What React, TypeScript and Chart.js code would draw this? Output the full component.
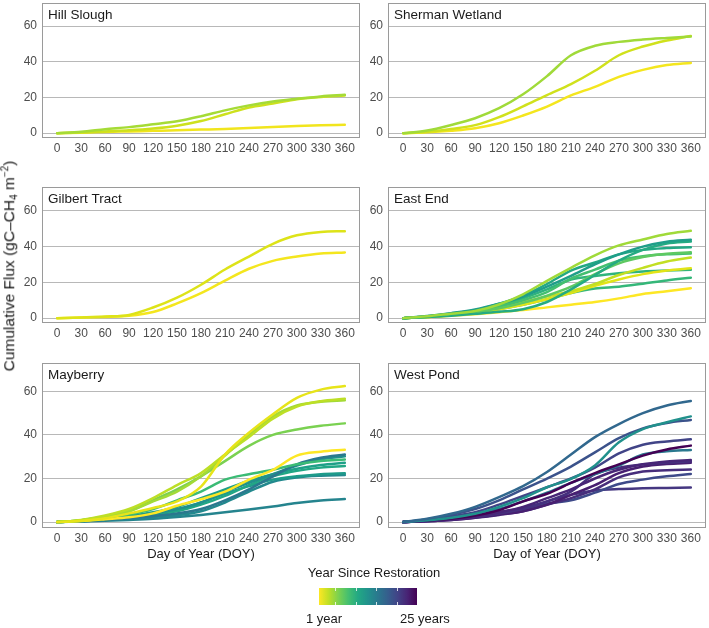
import React, { useEffect, useRef } from "react";
import { Chart, registerables } from "chart.js";

Chart.register(...registerables);

const FONT = '"Liberation Sans", Arial, Helvetica, sans-serif';

// Day of year sampled every 30 days
const DOY = [0, 30, 60, 90, 120, 150, 180, 210, 240, 270, 300, 330, 360];
const X_TICKS = [0, 30, 60, 90, 120, 150, 180, 210, 240, 270, 300, 330, 360];
const Y_TICKS = [0, 20, 40, 60];

// Cumulative CH4 flux (gC-CH4 m-2) per site-year, one row per year
const HILL_SLOUGH = [
  [0, 0.8, 2.2, 3.4, 5.0, 6.7, 9.5, 12.8, 15.6, 17.8, 19.3, 20.6, 21.5],
  [0, 0.4, 1.0, 1.6, 2.6, 4.2, 6.8, 10.6, 14.4, 16.6, 19.0, 20.3, 21.2],
  [0, 0.3, 0.7, 1.0, 1.3, 1.6, 2.0, 2.4, 2.9, 3.5, 4.0, 4.4, 4.7],
];
const HILL_SLOUGH_COLORS = ["#a5db36", "#cde11d", "#f1e51d"];

const SHERMAN_WETLAND = [
  [0, 1.5, 4.6, 8.4, 14.0, 21.8, 32.0, 43.7, 49.0, 51.2, 52.5, 53.4, 54.2],
  [0, 0.8, 2.4, 4.5, 9.0, 15.0, 21.4, 27.5, 35.0, 43.7, 48.6, 52.0, 54.5],
  [0, 0.5, 1.4, 2.8, 5.6, 9.9, 14.9, 21.2, 26.0, 31.6, 35.5, 38.2, 39.4],
];
const SHERMAN_WETLAND_COLORS = ["#a0da39", "#d0e11c", "#f4e61e"];

const GILBERT_TRACT = [
  [0, 0.4, 0.9, 1.8, 5.9, 11.4, 18.6, 27.1, 34.3, 41.4, 46.1, 48.0, 48.4],
  [0, 0.3, 0.7, 1.3, 3.4, 8.2, 13.9, 20.9, 27.5, 31.9, 34.3, 36.0, 36.6],
];
const GILBERT_TRACT_COLORS = ["#dde318", "#f4e61e"];

const EAST_END = [
  [0, 1.0, 2.5, 4.0, 7.6, 13.3, 20.8, 28.0, 35.0, 40.5, 43.8, 46.8, 48.6],
  [0, 1.2, 2.8, 4.8, 8.0, 12.0, 17.5, 23.5, 30.0, 35.5, 39.8, 42.5, 43.6],
  [0, 0.6, 1.4, 2.4, 3.5, 5.0, 9.0, 16.0, 24.0, 32.0, 38.0, 41.5, 42.6],
  [0, 1.0, 2.6, 4.4, 8.0, 12.5, 19.0, 26.5, 31.0, 35.5, 38.0, 39.0, 39.4],
  [0, 0.8, 2.0, 3.5, 5.5, 8.5, 12.5, 17.5, 24.5, 30.5, 34.0, 35.8, 36.7],
  [0, 0.8, 2.0, 3.8, 6.5, 10.0, 14.5, 22.0, 27.0, 32.0, 34.5, 35.5, 36.0],
  [0, 0.7, 1.8, 3.2, 5.5, 9.0, 12.0, 15.0, 19.0, 24.0, 28.0, 31.5, 33.7],
  [0, 0.6, 1.6, 3.0, 5.0, 7.5, 10.5, 14.0, 18.0, 21.5, 24.5, 26.5, 27.8],
  [0, 0.9, 2.3, 4.0, 7.0, 11.0, 16.0, 21.5, 23.5, 25.0, 26.0, 26.5, 26.9],
  [0, 0.7, 1.8, 3.2, 5.0, 7.5, 10.5, 14.0, 16.5, 17.5, 19.2, 21.0, 22.5],
  [0, 0.5, 1.3, 2.2, 3.3, 4.5, 6.0, 7.5, 9.0, 11.0, 13.5, 15.0, 16.7],
];
const EAST_END_COLORS = [
  "#a0da39", "#1f9e89", "#25ab82", "#22a884", "#5ec962", "#44bf70",
  "#c2df23", "#e2e418", "#2fb47c", "#35b779", "#fde725",
];

const MAYBERRY = [
  [0, 0.6, 1.8, 4.0, 6.5, 9.5, 16.3, 31.0, 41.0, 49.5, 57.0, 60.8, 62.4],
  [0, 1.0, 3.0, 6.0, 11.0, 17.0, 22.5, 31.0, 39.0, 47.5, 53.0, 55.5, 56.6],
  [0, 0.9, 2.6, 5.0, 9.5, 14.0, 21.0, 30.5, 40.0, 48.5, 53.5, 55.2, 55.9],
  [0, 0.9, 2.5, 5.0, 10.0, 15.0, 21.0, 28.0, 35.0, 40.0, 42.5, 44.2, 45.3],
  [0, 0.5, 1.3, 2.2, 4.0, 7.5, 10.5, 14.0, 19.5, 24.0, 30.5, 32.3, 33.2],
  [0, 0.8, 2.0, 3.5, 6.0, 10.0, 14.0, 19.5, 22.0, 24.0, 26.5, 28.0, 28.7],
  [0, 0.4, 1.0, 1.8, 2.8, 4.0, 6.0, 10.0, 15.0, 21.0, 26.5, 29.5, 31.0],
  [0, 0.5, 1.3, 2.5, 4.0, 6.0, 9.0, 14.0, 18.0, 22.0, 26.0, 28.8, 30.2],
  [0, 0.6, 1.5, 2.8, 4.5, 7.0, 11.0, 15.0, 19.0, 22.0, 24.5, 26.2, 27.2],
  [0, 0.5, 1.2, 2.2, 3.5, 5.0, 8.0, 12.0, 17.0, 21.0, 23.5, 25.0, 25.7],
  [0, 0.5, 1.3, 2.5, 3.8, 5.5, 9.0, 13.0, 16.5, 19.5, 21.0, 22.0, 22.4],
  [0, 0.4, 1.0, 1.7, 2.4, 3.2, 5.0, 9.0, 14.0, 18.5, 20.5, 21.3, 21.6],
  [0, 0.3, 0.6, 1.0, 1.5, 2.3, 3.3, 4.5, 5.8, 7.2, 8.8, 9.9, 10.6],
];
const MAYBERRY_COLORS = [
  "#e7e419", "#bddf26", "#a2da37", "#7ad151", "#fde725", "#3bbb75", "#2a788e",
  "#21918c", "#1fa088", "#22a785", "#1e9b8a", "#23898e", "#25848e",
];

const WEST_POND = [
  [0, 1.5, 3.8, 7.0, 11.5, 16.5, 23.0, 31.0, 39.0, 45.0, 50.0, 53.5, 55.6],
  [0, 0.8, 2.0, 3.8, 7.0, 11.0, 16.0, 19.8, 26.0, 36.6, 42.7, 45.8, 48.5],
  [0, 1.3, 3.3, 6.0, 10.0, 15.0, 20.0, 25.5, 32.0, 38.5, 43.0, 45.5, 46.9],
  [0, 1.0, 2.6, 4.5, 8.0, 12.0, 16.0, 20.0, 25.0, 31.5, 35.5, 37.0, 38.0],
  [0, 0.7, 1.6, 3.0, 5.5, 9.5, 13.0, 18.0, 22.5, 26.5, 30.5, 33.3, 35.1],
  [0, 0.8, 2.0, 3.6, 6.0, 9.5, 13.5, 18.0, 22.0, 26.0, 31.0, 32.5, 33.1],
  [0, 0.5, 1.3, 2.5, 4.5, 7.0, 11.0, 15.0, 20.0, 24.0, 26.5, 27.8, 28.5],
  [0, 0.5, 1.2, 2.3, 4.0, 6.0, 9.5, 14.0, 22.0, 25.0, 26.5, 27.4, 27.9],
  [0, 0.4, 1.0, 2.0, 3.5, 5.0, 8.0, 12.5, 17.0, 22.5, 25.5, 26.7, 27.2],
  [0, 0.4, 1.0, 2.0, 3.3, 5.0, 8.0, 11.0, 15.0, 20.5, 23.2, 23.8, 24.1],
  [0, 0.6, 1.5, 2.8, 4.5, 6.0, 8.5, 10.0, 13.5, 17.5, 19.5, 21.0, 22.1],
  [0, 0.6, 1.5, 2.8, 4.5, 6.5, 9.5, 12.5, 14.5, 15.2, 15.5, 15.7, 15.9],
];
const WEST_POND_COLORS = [
  "#31688e", "#21918c", "#3b528b", "#414487", "#440154", "#2a788e",
  "#482677", "#46307e", "#481f71", "#472d7b", "#3e4a89", "#453781",
];

const SITES = [
  { name: "Hill Slough", series: HILL_SLOUGH, colors: HILL_SLOUGH_COLORS },
  { name: "Sherman Wetland", series: SHERMAN_WETLAND, colors: SHERMAN_WETLAND_COLORS },
  { name: "Gilbert Tract", series: GILBERT_TRACT, colors: GILBERT_TRACT_COLORS },
  { name: "East End", series: EAST_END, colors: EAST_END_COLORS },
  { name: "Mayberry", series: MAYBERRY, colors: MAYBERRY_COLORS },
  { name: "West Pond", series: WEST_POND, colors: WEST_POND_COLORS },
];

// Colour bar: viridis, from year 1 (yellow) to year 25 (purple)
const VIRIDIS_REVERSED = [
  "#fde725", "#bddf26", "#7ad151", "#44bf70", "#22a884", "#21918c",
  "#2a788e", "#355f8d", "#414487", "#482475", "#440154",
];
const LEGEND_BREAKS = [5, 10, 15, 20];
const LEGEND_MIN = 1;
const LEGEND_MAX = 25;

// Panel grid geometry (plot-area edges in page pixels)
const COLS = [
  { left: 42, right: 360 },
  { left: 388, right: 706 },
];
const ROWS = [
  { top: 3, bottom: 138 },
  { top: 187, bottom: 323 },
  { top: 363, bottom: 528 },
];
const Y_AXIS_W = 30;
const X_AXIS_H = 20;
const PAD = 2;

type Site = { name: string; series: number[][]; colors: string[] };

function Panel({ site, col, row }: { site: Site; col: { left: number; right: number }; row: { top: number; bottom: number } }) {
  const ref = useRef<HTMLCanvasElement>(null);
  const width = col.right - col.left + Y_AXIS_W + PAD;
  const height = row.bottom - row.top + PAD + X_AXIS_H;

  useEffect(() => {
    const framePlugin = {
      id: "panelFrame",
      afterDatasetsDraw(chart: any) {
        const { ctx, chartArea } = chart;
        ctx.save();
        ctx.strokeStyle = "#9a9a9a";
        ctx.lineWidth = 1;
        ctx.strokeRect(
          chartArea.left + 0.5,
          chartArea.top + 0.5,
          chartArea.right - chartArea.left - 1,
          chartArea.bottom - chartArea.top - 1
        );
        ctx.fillStyle = "#1a1a1a";
        ctx.font = `13.5px ${FONT}`;
        ctx.textBaseline = "middle";
        ctx.textAlign = "left";
        ctx.fillText(site.name, chartArea.left + 6, chartArea.top + 12);
        ctx.restore();
      },
    };

    const chart = new Chart(ref.current as HTMLCanvasElement, {
      type: "line",
      data: {
        datasets: site.series.map((vals, i) => ({
          data: vals.map((y, j) => ({ x: DOY[j], y })),
          borderColor: site.colors[i],
          backgroundColor: site.colors[i],
          borderWidth: 2.5,
          pointRadius: 0,
          fill: false,
          cubicInterpolationMode: "monotone" as const,
          borderCapStyle: "round" as const,
          borderJoinStyle: "round" as const,
        })),
      },
      options: {
        responsive: false,
        animation: false,
        devicePixelRatio: 1,
        layout: { padding: { left: 0, right: PAD, top: PAD, bottom: 0 } },
        plugins: {
          legend: { display: false },
          tooltip: { enabled: false },
        },
        scales: {
          x: {
            type: "linear",
            min: -19,
            max: 379,
            afterBuildTicks: (s: any) => {
              s.ticks = X_TICKS.map((v) => ({ value: v }));
            },
            afterFit: (s: any) => {
              s.height = X_AXIS_H;
              s.paddingLeft = 0;
              s.paddingRight = 0;
            },
            grid: { display: false, drawTicks: false },
            border: { display: false },
            ticks: {
              autoSkip: false,
              maxRotation: 0,
              padding: 3,
              color: "#4d4d4d",
              font: { family: FONT, size: 12 },
              callback: (v: any) => String(v),
            },
          },
          y: {
            type: "linear",
            min: -2.7,
            max: 73,
            afterBuildTicks: (s: any) => {
              s.ticks = Y_TICKS.map((v) => ({ value: v }));
            },
            afterFit: (s: any) => {
              s.width = Y_AXIS_W;
              s.paddingTop = 0;
              s.paddingBottom = 0;
            },
            grid: { color: "#b8b8b8", lineWidth: 1, drawTicks: false },
            border: { display: false },
            ticks: {
              autoSkip: false,
              padding: 5,
              color: "#4d4d4d",
              font: { family: FONT, size: 12 },
              callback: (v: any) => String(v),
            },
          },
        },
      },
      plugins: [framePlugin],
    });
    return () => chart.destroy();
  }, [site]);

  return (
    <canvas
      ref={ref}
      width={width}
      height={height}
      style={{
        position: "absolute",
        left: col.left - Y_AXIS_W,
        top: row.top - PAD,
        width,
        height,
      }}
    />
  );
}

const textStyle: React.CSSProperties = {
  position: "absolute",
  fontFamily: FONT,
  color: "#1a1a1a",
  whiteSpace: "nowrap",
  lineHeight: 1,
};

export default function App() {
  const barLeft = 319;
  const barWidth = 98;
  const barTop = 588;
  const barHeight = 17;
  return (
    <div
      style={{
        position: "absolute",
        left: 0,
        top: 0,
        width: 709,
        height: 628,
        background: "#ffffff",
        overflow: "hidden",
      }}
    >
      {SITES.map((site, i) => (
        <Panel key={site.name} site={site} col={COLS[i % 2]} row={ROWS[Math.floor(i / 2)]} />
      ))}

      <div
        style={{
          ...textStyle,
          fontSize: 15.5,
          left: 9,
          top: 266,
          transform: "translate(-50%, -50%) rotate(-90deg)",
        }}
      >
        Cumulative Flux (gC–CH
        <span style={{ fontSize: 10, position: "relative", top: 3 }}>4</span> m
        <span style={{ fontSize: 10, position: "relative", top: -6 }}>−2</span>)
      </div>

      {COLS.map((c, i) => (
        <div
          key={i}
          style={{
            ...textStyle,
            fontSize: 13,
            left: (c.left + c.right) / 2,
            top: 553,
            transform: "translate(-50%, -50%)",
          }}
        >
          Day of Year (DOY)
        </div>
      ))}

      <div
        style={{
          ...textStyle,
          fontSize: 13,
          left: 374,
          top: 572,
          transform: "translate(-50%, -50%)",
        }}
      >
        Year Since Restoration
      </div>

      <div
        style={{
          position: "absolute",
          left: barLeft,
          top: barTop,
          width: barWidth,
          height: barHeight,
          background: `linear-gradient(to right, ${VIRIDIS_REVERSED.join(", ")})`,
        }}
      >
        {LEGEND_BREAKS.map((b) => {
          const x = ((b - LEGEND_MIN) / (LEGEND_MAX - LEGEND_MIN)) * barWidth;
          return (
            <React.Fragment key={b}>
              <div style={{ position: "absolute", left: x, top: 0, width: 1, height: 3, background: "rgba(255,255,255,0.8)" }} />
              <div style={{ position: "absolute", left: x, bottom: 0, width: 1, height: 3, background: "rgba(255,255,255,0.8)" }} />
            </React.Fragment>
          );
        })}
      </div>

      <div style={{ ...textStyle, fontSize: 13, left: 306, top: 618, transform: "translateY(-50%)" }}>1 year</div>
      <div style={{ ...textStyle, fontSize: 13, left: 400, top: 618, transform: "translateY(-50%)" }}>25 years</div>
    </div>
  );
}
